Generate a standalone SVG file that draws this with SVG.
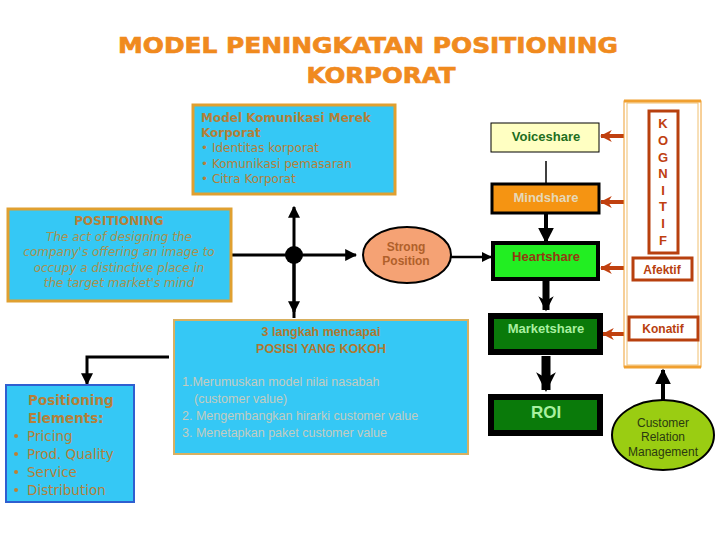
<svg xmlns="http://www.w3.org/2000/svg" width="720" height="540" viewBox="0 0 720 540">
<style>
.v{font-family:"DejaVu Sans",Verdana,sans-serif}
.a{font-family:"Liberation Sans",Arial,sans-serif}
.brown{fill:#B4803A}
.cyan{fill:#35C8F5}
.blk{stroke:#000;fill:none}
.red{stroke:#C0400F;fill:none;stroke-width:4}
</style>
<defs>
<marker id="ah" viewBox="0 0 10 10" refX="9" refY="5" markerWidth="4" markerHeight="4" orient="auto" markerUnits="strokeWidth"><path d="M0,0 L10,5 L0,10 z" fill="#000"/></marker>
<marker id="ar" viewBox="0 0 10 10" refX="9" refY="5" markerWidth="3" markerHeight="3" orient="auto" markerUnits="strokeWidth"><path d="M0,0 L10,5 L0,10 L3,5 z" fill="#C0400F"/></marker>
<marker id="ab" viewBox="0 0 10 10" refX="9" refY="5" markerWidth="2.2" markerHeight="2.4" orient="auto" markerUnits="strokeWidth"><path d="M0,0 L10,5 L0,10 L3,5 z" fill="#000"/></marker>
</defs>
<rect width="720" height="540" fill="#fff"/>
<g id="title" class="v" font-weight="bold" font-size="22" fill="#F08A1E" stroke="#F08A1E" stroke-width="0.7" text-anchor="middle">
<text x="368" y="53" textLength="500" lengthAdjust="spacingAndGlyphs">MODEL PENINGKATAN POSITIONING</text>
<text x="381" y="83" textLength="149" lengthAdjust="spacingAndGlyphs">KORPORAT</text>
</g>
<g id="connectors">
<line x1="231" y1="255" x2="356" y2="255" stroke="#000" stroke-width="3" marker-end="url(#ah)"/>
<line x1="294" y1="318" x2="294" y2="207" stroke="#000" stroke-width="3" marker-end="url(#ah)"/>
<line x1="294" y1="255" x2="294" y2="312" stroke="#000" stroke-width="3" marker-end="url(#ah)"/>
<circle cx="294" cy="255" r="9" fill="#000"/>
<line x1="451" y1="257" x2="491" y2="257" stroke="#000" stroke-width="2.5" marker-end="url(#ah)"/>
<line x1="546" y1="161" x2="546" y2="183" stroke="#000" stroke-width="1.5"/>
<line x1="546" y1="213" x2="546" y2="242" stroke="#000" stroke-width="4" marker-end="url(#ah)"/>
<line x1="546" y1="281" x2="546" y2="310" stroke="#000" stroke-width="7" marker-end="url(#ab)"/>
<line x1="546" y1="356" x2="546" y2="390" stroke="#000" stroke-width="9" marker-end="url(#ab)"/>
<line x1="648" y1="136" x2="601" y2="136" class="red" marker-end="url(#ar)"/>
<line x1="648" y1="202" x2="601" y2="202" class="red" marker-end="url(#ar)"/>
<line x1="632" y1="268" x2="601" y2="268" class="red" marker-end="url(#ar)"/>
<line x1="628" y1="334" x2="603" y2="334" class="red" marker-end="url(#ar)"/>
<line x1="663" y1="401" x2="663" y2="370" stroke="#000" stroke-width="4" marker-end="url(#ah)"/>
<polyline points="169,357 87,357 87,384" fill="none" stroke="#000" stroke-width="3" marker-end="url(#ah)"/>
</g>
<g id="model-komunikasi">
<rect x="193" y="105" width="202" height="89" class="cyan" stroke="#E0A030" stroke-width="3"/>
<g class="v brown" font-size="12">
<text x="201" y="122" font-weight="bold">Model Komunikasi Merek</text>
<text x="201" y="137" font-weight="bold">Korporat</text>
<text x="201" y="152">• Identitas korporat</text>
<text x="201" y="168">• Komunikasi pemasaran</text>
<text x="201" y="183">• Citra Korporat</text>
</g>
</g>
<g id="positioning">
<rect x="8" y="209" width="223" height="92" class="cyan" stroke="#E0A030" stroke-width="3"/>
<g class="v" font-size="12" text-anchor="middle" fill="#A89050">
<text x="119" y="225" font-weight="bold" fill="#B4803A">POSITIONING</text>
<text x="119" y="241" font-style="italic">The act of designing the</text>
<text x="119" y="256" font-style="italic">company's offering an image to</text>
<text x="119" y="272" font-style="italic">occupy a distinctive place in</text>
<text x="119" y="287" font-style="italic">the target market's mind</text>
</g>
</g>
<g id="strong-position">
<ellipse cx="407" cy="255" rx="44" ry="28" fill="#F5A274" stroke="#000" stroke-width="2"/>
<g class="a" font-size="12" font-weight="bold" fill="#B0602A" text-anchor="middle">
<text x="406" y="251">Strong</text>
<text x="406" y="265">Position</text>
</g>
</g>
<g id="voiceshare">
<rect x="491" y="123" width="108" height="29" fill="#FFFFC2" stroke="#000" stroke-width="1"/>
<text x="546" y="141" class="a" font-size="13" font-weight="bold" fill="#1E6E1E" text-anchor="middle">Voiceshare</text>
</g>
<g id="mindshare">
<rect x="492" y="184" width="107" height="29" fill="#F59412" stroke="#000" stroke-width="3"/>
<text x="546" y="202" class="a" font-size="13" font-weight="bold" fill="#E6D8B8" text-anchor="middle">Mindshare</text>
</g>
<g id="heartshare">
<rect x="493" y="243" width="105" height="36" fill="#22EE22" stroke="#000" stroke-width="4"/>
<text x="546" y="261" class="a" font-size="13" font-weight="bold" fill="#943A10" text-anchor="middle">Heartshare</text>
</g>
<g id="marketshare">
<rect x="491" y="316" width="109" height="36" fill="#0A7A0A" stroke="#000" stroke-width="6"/>
<text x="546" y="333" class="a" font-size="13" font-weight="bold" fill="#A8F0A0" text-anchor="middle">Marketshare</text>
</g>
<g id="roi">
<rect x="491" y="397" width="109" height="36" fill="#0A7A0A" stroke="#000" stroke-width="6"/>
<text x="546" y="418" class="a" font-size="17" font-weight="bold" fill="#A8F0A0" text-anchor="middle">ROI</text>
</g>
<g id="frame">
<rect x="624" y="101" width="77" height="266" fill="#fff" stroke="#F0A030" stroke-width="1"/>
<rect x="627" y="103" width="71" height="262" fill="none" stroke="#F0C070" stroke-width="1"/>
<line x1="624" y1="101" x2="701" y2="101" stroke="#F0A030" stroke-width="3"/>
<line x1="624" y1="367" x2="701" y2="367" stroke="#F0A030" stroke-width="3"/>
</g>
<g id="kognitif">
<rect x="649" y="111" width="29" height="142" fill="#fff" stroke="#B8400E" stroke-width="3"/>
<g class="a" font-size="13" font-weight="bold" fill="#C0400F" text-anchor="middle">
<text x="663" y="128">K</text>
<text x="663" y="145">O</text>
<text x="663" y="162">G</text>
<text x="663" y="178">N</text>
<text x="663" y="195">I</text>
<text x="663" y="211">T</text>
<text x="663" y="228">I</text>
<text x="663" y="245">F</text>
</g>
</g>
<g id="afektif">
<rect x="633" y="258" width="59" height="22" fill="#fff" stroke="#B8400E" stroke-width="3"/>
<text x="662" y="274" class="a" font-size="12" font-weight="bold" fill="#B8400E" text-anchor="middle">Afektif</text>
</g>
<g id="konatif">
<rect x="629" y="317" width="69" height="23" fill="#fff" stroke="#B8400E" stroke-width="3"/>
<text x="663" y="333" class="a" font-size="12" font-weight="bold" fill="#B8400E" text-anchor="middle">Konatif</text>
</g>
<g id="crm">
<ellipse cx="663" cy="435" rx="51" ry="35" fill="#9ACD12" stroke="#000" stroke-width="2"/>
<g class="a" font-size="12" fill="#2A3A10" text-anchor="middle">
<text x="663" y="427">Customer</text>
<text x="663" y="441">Relation</text>
<text x="663" y="456">Management</text>
</g>
</g>
<g id="langkah">
<rect x="174" y="320" width="294" height="134" class="cyan" stroke="#D8B060" stroke-width="2"/>
<g class="a" font-size="12.5" font-weight="bold" fill="#B07830" text-anchor="middle">
<text x="321" y="336">3 langkah mencapai</text>
<text x="321" y="353">POSISI YANG KOKOH</text>
</g>
<g class="a" font-size="12.5" fill="#C4CCC0">
<text x="182" y="386">1.Merumuskan model nilai nasabah</text>
<text x="194" y="403">(customer value)</text>
<text x="182" y="420">2. Mengembangkan hirarki customer value</text>
<text x="182" y="437">3. Menetapkan paket customer value</text>
</g>
</g>
<g id="positioning-elements">
<rect x="6" y="385" width="128" height="117" class="cyan" stroke="#2F5FD0" stroke-width="2"/>
<g class="v brown" font-size="13.5">
<text x="28" y="405" font-weight="bold">Positioning</text>
<text x="28" y="423" font-weight="bold">Elements:</text>
<text x="27" y="441">Pricing</text>
<text x="27" y="459">Prod. Quality</text>
<text x="27" y="477">Service</text>
<text x="27" y="495">Distribution</text>
</g>
<g fill="#C08030">
<circle cx="16" cy="436" r="2"/>
<circle cx="16" cy="454" r="2"/>
<circle cx="16" cy="472" r="2"/>
<circle cx="16" cy="490" r="2"/>
</g>
</g>
</svg>
